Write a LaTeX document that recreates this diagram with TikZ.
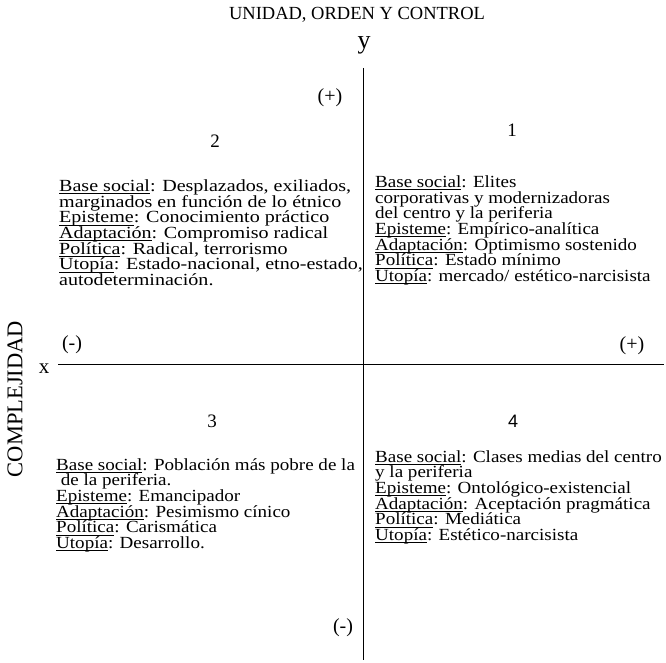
\documentclass[tikz,border=0pt]{standalone}
\usepackage{fontspec}
\setmainfont{Liberation Serif}
\newfontfamily\sansnum{Liberation Sans}
\newfontfamily\bodyW[FakeStretch=1.18]{Liberation Serif}
\newfontfamily\bodyN[FakeStretch=1.12]{Liberation Serif}
\newcommand{\ulbl}[1]{\setbox0\hbox{#1}\rlap{\rule[-2.6pt]{\wd0}{0.8pt}}\box0}
\begin{document}
\begin{tikzpicture}[x=1pt,y=-1pt,
  body/.style={font=\bodyN\fontsize{17}{15.7}\selectfont, align=left, inner sep=0pt, anchor=north west},
  bodywide/.style={body, font=\bodyW\fontsize{17}{15.7}\selectfont},
  sign/.style={font=\fontsize{20}{22}\selectfont, inner sep=0pt},
  qnum/.style={font=\fontsize{19}{21}\selectfont, inner sep=0pt},
  axis/.style={line width=1pt}]
\useasboundingbox (0,0) rectangle (666,663);
% title and axis labels
\node[font=\fontsize{18.5}{20}\selectfont, inner sep=0pt] (title) at (357,15) {UNIDAD, ORDEN Y CONTROL};
\node[font=\fontsize{26}{28}\selectfont, inner sep=0pt] (ylab) at (364,45) {y};
\node[font=\fontsize{21}{23}\selectfont, inner sep=0pt] (xlab) at (44,369) {x};
\node[font=\fontsize{22.5}{24}\selectfont, inner sep=0pt, rotate=90] (comp) at (15,399) {COMPLEJIDAD};
% axes
\coordinate (ytop) at (363,68);
\coordinate (ybot) at (363,660);
\coordinate (xleft) at (58,364);
\coordinate (xright) at (664,364);
\draw[axis] (ytop) -- (ybot);
\draw[axis] (xleft) -- (xright);
% signs
\node[sign] (ptop) at (330,98) {(+)};
\node[sign] (mleft) at (72,345) {(-)};
\node[sign] (pright) at (632,346) {(+)};
\node[sign] (mbot) at (343,628) {(-)};
% quadrant numbers
\node[qnum] (n1) at (512,130) {1};
\node[qnum] (n2) at (215,141) {2};
\node[qnum] (n3) at (212,421) {3};
\node[qnum, font=\sansnum\fontsize{18}{20}\selectfont] (n4) at (513,421) {4};
% quadrant texts
\node[bodywide] (q2) at (59,179.5) {\ulbl{Base social}: Desplazados, exiliados,\\
marginados en función de lo étnico\\
\ulbl{Episteme}: Conocimiento práctico\\
\ulbl{Adaptación}: Compromiso radical\\
\ulbl{Política}: Radical, terrorismo\\
\ulbl{Utopía}: Estado-nacional, etno-estado,\\
autodeterminación.};
\node[body] (q1) at (375,175.5) {\ulbl{Base social}: Elites\\
corporativas y modernizadoras\\
del centro y la periferia\\
\ulbl{Episteme}: Empírico-analítica\\
\ulbl{Adaptación}: Optimismo sostenido\\
\ulbl{Política}: Estado mínimo\\
\ulbl{Utopía}: mercado/ estético-narcisista};
\node[body] (q3) at (56,458) {\ulbl{Base social}: Población más pobre de la\\
\ de la periferia.\\
\ulbl{Episteme}: Emancipador\\
\ulbl{Adaptación}: Pesimismo cínico\\
\ulbl{Política}: Carismática\\
\ulbl{Utopía}: Desarrollo.};
\node[body] (q4) at (375,450) {\ulbl{Base social}: Clases medias del centro\\
y la periferia\\
\ulbl{Episteme}: Ontológico-existencial\\
\ulbl{Adaptación}: Aceptación pragmática\\
\ulbl{Política}: Mediática\\
\ulbl{Utopía}: Estético-narcisista};
\end{tikzpicture}
\end{document}
